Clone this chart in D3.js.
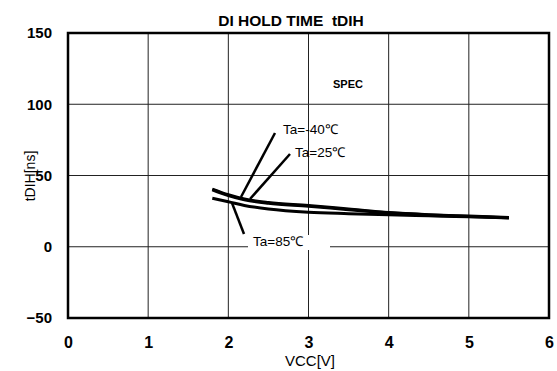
<!DOCTYPE html>
<html>
<head>
<meta charset="utf-8">
<script src="https://cdn.jsdelivr.net/npm/d3@7/dist/d3.min.js"></script>
<style>
body{margin:0;background:#fff;}
text{font-family:"Liberation Sans",Arial,sans-serif;fill:#000;}
</style>
</head>
<body>
<svg id="chart" width="557" height="371"></svg>
<script>
const title = "DI HOLD TIME  tDIH";
const xLabel = "VCC[V]";
const yLabel = "tDIH[ns]";
const xTicks = [0,1,2,3,4,5,6];
const yTicks = [-50,0,50,100,150];
const vcc = [1.8, 2.0, 2.2, 2.5, 3.0, 3.5, 4.0, 4.5, 5.0, 5.5];
const tMinus40 = [40.5, 36.5, 33.5, 31.0, 29.0, 26.5, 24.0, 22.5, 21.5, 20.5];
const t25      = [40.0, 36.0, 33.0, 30.5, 28.5, 26.0, 23.8, 22.3, 21.3, 20.4];
const t85      = [34.0, 31.6, 29.0, 26.5, 24.2, 23.2, 22.4, 21.7, 21.0, 20.2];
const series = [
  {name:"Ta=-40℃", values:tMinus40},
  {name:"Ta=25℃", values:t25},
  {name:"Ta=85℃", values:t85}
];
const specLabel = "SPEC";

const svg = d3.select("#chart");
const L=68, R=549, T=33, B=318;
const x = d3.scaleLinear().domain([0,6]).range([L,R]);
const y = d3.scaleLinear().domain([-50,150]).range([B,T]);

// grid
svg.append("g").selectAll("line").data(xTicks.filter(d=>d>0&&d<6)).join("line")
  .attr("x1",d=>x(d)).attr("x2",d=>x(d)).attr("y1",T).attr("y2",B)
  .attr("stroke","#222").attr("stroke-width",1);
svg.append("g").selectAll("line").data(yTicks.filter(d=>d>-50&&d<150)).join("line")
  .attr("x1",L).attr("x2",R).attr("y1",d=>y(d)).attr("y2",d=>y(d))
  .attr("stroke","#222").attr("stroke-width",1);

// curves
const line = d3.line().x((d,i)=>x(vcc[i])).y(d=>y(d)).curve(d3.curveMonotoneX);
svg.append("g").selectAll("path").data(series).join("path")
  .attr("d",d=>line(d.values)).attr("fill","none")
  .attr("stroke","#000").attr("stroke-width",3);

// frame
svg.append("rect").attr("x",L).attr("y",T).attr("width",R-L).attr("height",B-T)
  .attr("fill","none").attr("stroke","#000").attr("stroke-width",2.5);

// axes labels via d3 axes (hide lines)
const xAxis = svg.append("g").attr("transform",`translate(0,${B})`)
  .call(d3.axisBottom(x).tickValues(xTicks).tickFormat(d3.format("d")).tickSize(0).tickPadding(19));
xAxis.select(".domain").remove();
xAxis.selectAll("text").attr("font-size",16).attr("font-weight","bold")
  .style("font-family","'Liberation Sans',Arial,sans-serif");

const yAxis = svg.append("g").attr("transform",`translate(${L},0)`)
  .call(d3.axisLeft(y).tickValues(yTicks).tickFormat(d=>d<0?"\u2212"+(-d):d).tickSize(0).tickPadding(16));
yAxis.select(".domain").remove();
yAxis.selectAll("text").attr("font-size",15).attr("font-weight","bold")
  .style("font-family","'Liberation Sans',Arial,sans-serif");

// title
svg.append("text").attr("x",291).attr("y",26).attr("text-anchor","middle")
  .attr("font-size",15.5).attr("font-weight","bold").style("white-space","pre").text(title);

// axis titles
svg.append("text").attr("x",310).attr("y",366).attr("text-anchor","middle")
  .attr("font-size",15).text(xLabel);
svg.append("text").attr("transform","translate(35,176) rotate(-90)").attr("text-anchor","middle")
  .attr("font-size",14).text(yLabel);

// SPEC label
svg.append("text").attr("x",333).attr("y",88).attr("font-size",11).attr("font-weight","bold").text(specLabel);

// annotations: leader lines + labels
const ann = [
  {s:0, lx1:241, ly1:197, lx2:275, ly2:133, tx:283, ty:134},
  {s:1, lx1:250, ly1:199, lx2:290, ly2:154, tx:295, ty:157},
  {s:2, lx1:232, ly1:203, lx2:244, ly2:234, tx:253, ty:246}
];
// white background behind 85 label
svg.append("rect").attr("x",248).attr("y",235).attr("width",82).attr("height",15).attr("fill","#fff");
svg.append("g").selectAll("line").data(ann).join("line")
  .attr("x1",d=>d.lx1).attr("y1",d=>d.ly1).attr("x2",d=>d.lx2).attr("y2",d=>d.ly2)
  .attr("stroke","#000").attr("stroke-width",2.5);
svg.append("g").selectAll("text").data(ann).join("text")
  .attr("x",d=>d.tx).attr("y",d=>d.ty).attr("font-size",13.5)
  .text(d=>series[d.s].name);
</script>
</body>
</html>
